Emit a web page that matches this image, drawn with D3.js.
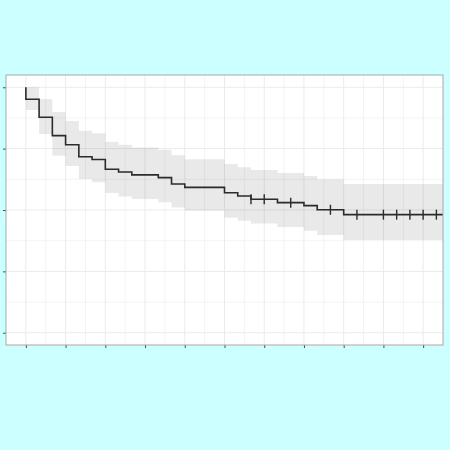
<!DOCTYPE html>
<html>
<head>
<meta charset="utf-8">
<script src="https://cdn.jsdelivr.net/npm/d3@7"></script>
<style>
  body { margin: 0; background: #ccffff; }
  svg { display: block; }
</style>
</head>
<body>
<div id="chart"></div>
<script>
// Kaplan-Meier estimate
var times = [0, 0, 1, 2, 3, 4, 5, 6, 7, 8, 10, 11, 12, 15, 16, 17, 19, 21, 22, 24];
var surv  = [1, 0.951, 0.878, 0.803, 0.766, 0.717, 0.706, 0.666, 0.655, 0.643, 0.632, 0.606, 0.592, 0.570, 0.557, 0.544, 0.530, 0.518, 0.501, 0.481];
var upper = [1, 1.0, 0.952, 0.899, 0.863, 0.823, 0.813, 0.778, 0.766, 0.755, 0.745, 0.723, 0.707, 0.687, 0.674, 0.663, 0.651, 0.639, 0.625, 0.606];
var lower = [1, 0.907, 0.810, 0.721, 0.679, 0.626, 0.613, 0.569, 0.555, 0.545, 0.532, 0.510, 0.498, 0.468, 0.456, 0.445, 0.431, 0.415, 0.398, 0.378];
var endTime = 32;
var censorTimes = [17, 18, 20, 23, 25, 27, 28, 29, 30, 31];
var xTicks = [0, 3, 6, 9, 12, 15, 18, 21, 24, 27, 30];
var yTicks = [0, 0.25, 0.5, 0.75, 1];

var W = 450, H = 450;
var margin = { top: 75, right: 7, bottom: 105, left: 6 },
  width = W - margin.left - margin.right,
  height = H - margin.top - margin.bottom;

var svg = d3.select("#chart")
  .append("svg")
  .attr("width", W)
  .attr("height", H)
  .append("g")
  .attr("transform", "translate(" + margin.left + "," + margin.top + ")");

var x = d3.scaleLinear().domain([-1.5, 31.5]).range([0, width]);
var y = d3.scaleLinear().domain([-0.05, 1.05]).range([height, 0]);

// panel
svg.append("rect")
  .attr("width", width).attr("height", height)
  .attr("fill", "#fff");

svg.append("clipPath").attr("id", "clip")
  .append("rect").attr("width", width).attr("height", height);

// grid
var xMinor = d3.range(1.5, 30, 3);
var yMinor = d3.range(0.125, 1, 0.25);
var grid = svg.append("g");
grid.selectAll(".xm").data(xMinor).enter().append("line")
  .attr("x1", function(d) { return x(d); }).attr("x2", function(d) { return x(d); })
  .attr("y1", 0).attr("y2", height)
  .attr("stroke", "#f4f4f4").attr("stroke-width", 1);
grid.selectAll(".ym").data(yMinor).enter().append("line")
  .attr("y1", function(d) { return y(d); }).attr("y2", function(d) { return y(d); })
  .attr("x1", 0).attr("x2", width)
  .attr("stroke", "#f4f4f4").attr("stroke-width", 1);
grid.selectAll(".xM").data(xTicks).enter().append("line")
  .attr("x1", function(d) { return x(d); }).attr("x2", function(d) { return x(d); })
  .attr("y1", 0).attr("y2", height)
  .attr("stroke", "#ebebeb").attr("stroke-width", 1);
grid.selectAll(".yM").data(yTicks).enter().append("line")
  .attr("y1", function(d) { return y(d); }).attr("y2", function(d) { return y(d); })
  .attr("x1", 0).attr("x2", width)
  .attr("stroke", "#ebebeb").attr("stroke-width", 1);

// step data
var pts = times.map(function(t, i) {
  return { t: t, s: surv[i], lo: lower[i], hi: upper[i] };
});
var last = pts[pts.length - 1];
pts.push({ t: endTime, s: last.s, lo: last.lo, hi: last.hi });

var plot = svg.append("g").attr("clip-path", "url(#clip)");

// confidence band
plot.append("path")
  .datum(pts)
  .attr("fill", "#000")
  .attr("fill-opacity", 0.085)
  .attr("d", d3.area()
    .curve(d3.curveStepAfter)
    .x(function(d) { return x(d.t); })
    .y0(function(d) { return y(d.lo); })
    .y1(function(d) { return y(d.hi); }));

// survival curve
plot.append("path")
  .datum(pts)
  .attr("fill", "none")
  .attr("stroke", "#2b2b2b")
  .attr("stroke-width", 1.6)
  .attr("d", d3.line()
    .curve(d3.curveStepAfter)
    .x(function(d) { return x(d.t); })
    .y(function(d) { return y(d.s); }));

// censor marks
function survAt(t) {
  var s = 1;
  for (var i = 0; i < times.length; i++) if (times[i] <= t) s = surv[i];
  return s;
}
plot.selectAll(".cens").data(censorTimes).enter().append("line")
  .attr("x1", function(d) { return x(d); }).attr("x2", function(d) { return x(d); })
  .attr("y1", function(d) { return y(survAt(d)) - 5; })
  .attr("y2", function(d) { return y(survAt(d)) + 5; })
  .attr("stroke", "#2b2b2b").attr("stroke-width", 1.4);

// axes (ticks only, no labels)
var xAxis = svg.append("g")
  .attr("transform", "translate(0," + height + ")")
  .call(d3.axisBottom(x).tickValues(xTicks).tickSize(3).tickFormat(""));
var yAxis = svg.append("g")
  .call(d3.axisLeft(y).tickValues(yTicks).tickSize(3).tickFormat(""));
[xAxis, yAxis].forEach(function(a) {
  a.select(".domain").remove();
  a.selectAll(".tick line").attr("stroke", "#4d4d4d").attr("stroke-width", 1);
});

// panel border
svg.append("rect")
  .attr("width", width).attr("height", height)
  .attr("fill", "none")
  .attr("stroke", "#a8a8a8").attr("stroke-width", 1);
</script>
</body>
</html>
